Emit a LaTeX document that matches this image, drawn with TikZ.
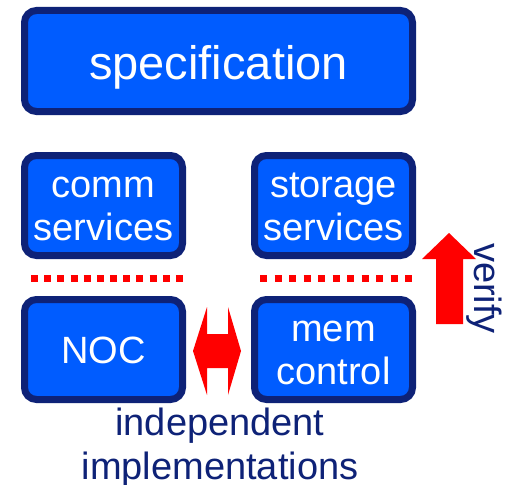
\documentclass[tikz,border=0pt]{standalone}
\usepackage{fontspec}
\setmainfont{Liberation Sans}
\definecolor{boxblue}{RGB}{0,92,255}
\definecolor{navy}{RGB}{14,34,119}
\definecolor{arrowred}{RGB}{255,0,0}
% lines stacked on the baseline of the last one
\newcommand\blocklines[1]{\begin{tabular}[b]{@{}c@{}}#1\end{tabular}}
\begin{document}
\begin{tikzpicture}[x=1pt,y=-1pt,
  block/.style={draw=navy, fill=boxblue, line width=7pt, rounded corners=12pt,
    text=white, inner sep=0pt, minimum width=158pt, minimum height=100pt,
    font=\fontsize{38}{43.5}\selectfont, text height=30pt, text depth=3pt},
  twoline/.style={text height=74.5pt, text depth=4pt},
  reddots/.style={draw=arrowred, line width=7pt},
  caption/.style={text=navy, inner sep=0pt,
    font=\fontsize{38}{44}\selectfont}]
\useasboundingbox (0,0) rectangle (505,484);
\fill[white] (0,0) rectangle (505,484);

% boxes
\node[block, minimum width=388pt, minimum height=101pt,
  font=\fontsize{47}{52}\selectfont, text height=40pt, text depth=2pt]
  (spec) at (218.5,61) {specification};
\node[block, twoline] (comm) at (103.5,205.5) {\blocklines{comm\\services}};
\node[block, twoline] (stor) at (333.5,205.5) {\blocklines{storage\\services}};
\node[block] (noc) at (103.5,349.5) {NOC};
\node[block, twoline] (mem) at (333.5,349.5) {\blocklines{mem\\control}};

% abstraction boundary
\coordinate (l1) at (31,278.5);
\coordinate (l2) at (183,278.5);
\coordinate (r1) at (260,278.5);
\coordinate (r2) at (412,278.5);
\draw[reddots, dash pattern=on 7pt off 6.18pt] (l1) -- (l2);
\draw[reddots, dash pattern=on 7pt off 7.5pt] (r1) -- (r2);

% double arrow between the implementations
\fill[arrowred] (193,351) -- (207,307) -- (207,334) -- (228,334) -- (228,307)
  -- (241,351) -- (228,395) -- (228,368) -- (207,368) -- (207,395) -- cycle;

% verify arrow
\fill[arrowred] (436,324) -- (436,259) -- (422,259) -- (449,233) -- (476,259)
  -- (463,259) -- (463,324) -- cycle;
\node[caption, rotate=-90, anchor=base] (verify) at (474,288.5) {verify};

% caption
\node[caption, anchor=base] (impl) at (220,479)
  {\blocklines{independent\\implementations}};
\end{tikzpicture}
\end{document}
